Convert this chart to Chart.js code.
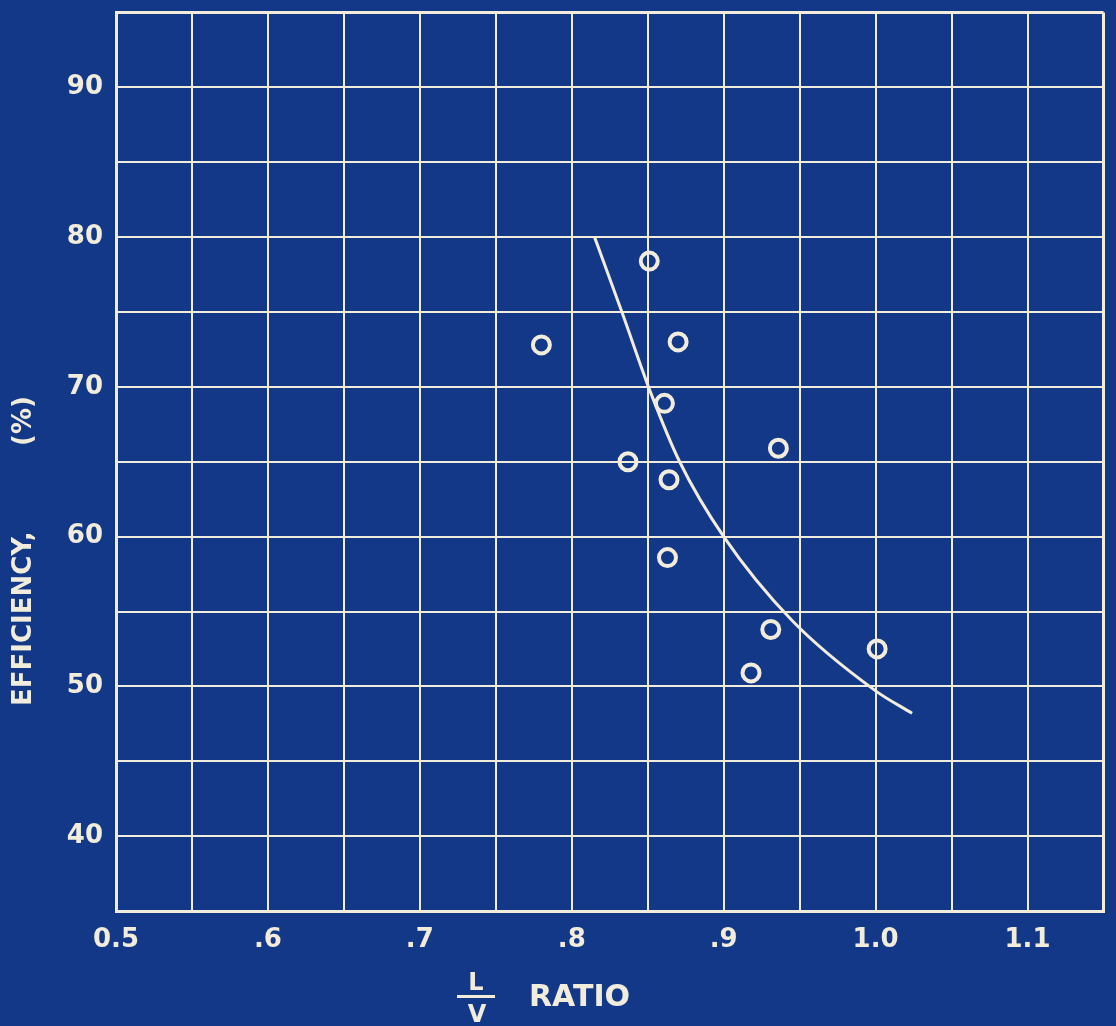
<!DOCTYPE html>
<html>
<head>
<meta charset="utf-8">
<script src="https://cdn.jsdelivr.net/npm/chart.js@4.4.1/dist/chart.umd.min.js"></script>
<style>
  body { margin: 0; background: #123887; }
  #wrap { width: 1116px; height: 1026px; }
</style>
</head>
<body>
<div id="wrap"><canvas id="chart"></canvas></div>
<script>
// measured runs: L/V ratio against tray efficiency
const ratioValues = [0.780, 0.851, 0.870, 0.861, 0.837, 0.864, 0.936, 0.863, 0.931, 0.918, 1.001];
const efficiencyValues = [72.8, 78.4, 73.0, 68.9, 65.0, 63.8, 65.9, 58.6, 53.8, 50.9, 52.5];

// faired curve through the runs
const curveRatio = [0.815, 0.833, 0.852, 0.871, 0.900, 0.945, 1.000, 1.024];
const curveEfficiency = [80.0, 75.0, 69.6, 65.0, 60.0, 54.4, 49.7, 48.2];

const xTickValues = [0.5, 0.6, 0.7, 0.8, 0.9, 1.0, 1.1];
const xTickLabels = ['0.5', '.6', '.7', '.8', '.9', '1.0', '1.1'];
const yTickValues = [40, 50, 60, 70, 80, 90];
const yTickLabels = ['40', '50', '60', '70', '80', '90'];

const paper = '#123887';
const ink = '#f1ecdc';

function labelFor(values, labels, v) {
    const i = values.findIndex(t => Math.abs(t - v) < 1e-6);
    return i >= 0 ? labels[i] : '';
}

function gridTicks(min, max, step) {
    const ticks = [];
    const n = Math.round((max - min) / step);
    for (let i = 0; i <= n; i++) {
        ticks.push({ value: +(min + i * step).toFixed(3) });
    }
    return ticks;
}

function edgeWidth(c) {
    return (c.index === 0 || c.index === c.scale.ticks.length - 1) ? 3 : 2;
}

// paper colour behind everything, hand-lettered axis titles on top
const blueprint = {
    id: 'blueprint',
    beforeDraw(chart) {
        const ctx = chart.ctx;
        ctx.save();
        ctx.fillStyle = paper;
        ctx.fillRect(0, 0, chart.width, chart.height);
        ctx.restore();
    },
    afterDraw(chart) {
        const ctx = chart.ctx;
        ctx.save();
        ctx.fillStyle = ink;

        // y title, reading upward
        ctx.font = 'bold 26px "DejaVu Sans"';
        ctx.textBaseline = 'alphabetic';
        ctx.save();
        ctx.translate(31, 706);
        ctx.rotate(-Math.PI / 2);
        ctx.textAlign = 'left';
        ctx.fillText('EFFICIENCY,', 0, 0);
        ctx.restore();
        ctx.save();
        ctx.translate(31, 421);
        ctx.rotate(-Math.PI / 2);
        ctx.textAlign = 'center';
        ctx.fillText('(%)', 0, 0);
        ctx.restore();

        // x title: L over V, then RATIO
        ctx.textAlign = 'center';
        ctx.font = 'bold 24px "DejaVu Sans"';
        ctx.fillText('L', 476, 990);
        ctx.fillText('V', 477, 1022);
        ctx.fillRect(457, 995, 38, 3);
        ctx.textAlign = 'left';
        ctx.font = 'bold 30px "DejaVu Sans"';
        ctx.fillText('RATIO', 529, 1006);
        ctx.restore();
    }
};

const ctx = document.getElementById('chart').getContext('2d');
new Chart(ctx, {
    type: 'scatter',
    data: {
        datasets: [
            {
                label: 'runs',
                data: ratioValues.map((x, i) => ({ x, y: efficiencyValues[i] })),
                pointStyle: 'circle',
                pointRadius: 8.5,
                pointBorderWidth: 4,
                pointBorderColor: ink,
                pointBackgroundColor: 'rgba(0,0,0,0)',
                showLine: false
            },
            {
                label: 'curve',
                data: curveRatio.map((x, i) => ({ x, y: curveEfficiency[i] })),
                showLine: true,
                borderColor: ink,
                borderWidth: 3,
                pointRadius: 0,
                cubicInterpolationMode: 'monotone',
                fill: false
            }
        ]
    },
    options: {
        responsive: true,
        maintainAspectRatio: false,
        animation: false,
        events: [],
        layout: { padding: { top: 8, right: 8, left: 0, bottom: 0 } },
        plugins: {
            legend: { display: false },
            tooltip: { enabled: false }
        },
        scales: {
            x: {
                type: 'linear',
                min: 0.5,
                max: 1.15,
                afterBuildTicks: s => { s.ticks = gridTicks(0.5, 1.15, 0.05); },
                afterFit: s => { s.height = 115; s.paddingLeft = 0; s.paddingRight = 0; },
                grid: { color: ink, lineWidth: edgeWidth, drawTicks: false },
                border: { color: ink, width: 3 },
                ticks: {
                    color: ink,
                    padding: 14,
                    maxRotation: 0,
                    autoSkip: false,
                    font: { family: 'DejaVu Sans', size: 26, weight: 'bold' },
                    callback: v => labelFor(xTickValues, xTickLabels, v)
                }
            },
            y: {
                type: 'linear',
                min: 35,
                max: 95,
                afterBuildTicks: s => { s.ticks = gridTicks(35, 95, 5); },
                afterFit: s => { s.width = 116; s.paddingTop = 0; s.paddingBottom = 0; },
                grid: { color: ink, lineWidth: edgeWidth, drawTicks: false },
                border: { color: ink, width: 3 },
                ticks: {
                    color: ink,
                    padding: 13,
                    autoSkip: false,
                    font: { family: 'DejaVu Sans', size: 26, weight: 'bold' },
                    callback: v => labelFor(yTickValues, yTickLabels, v)
                }
            }
        }
    },
    plugins: [blueprint]
});
</script>
</body>
</html>
